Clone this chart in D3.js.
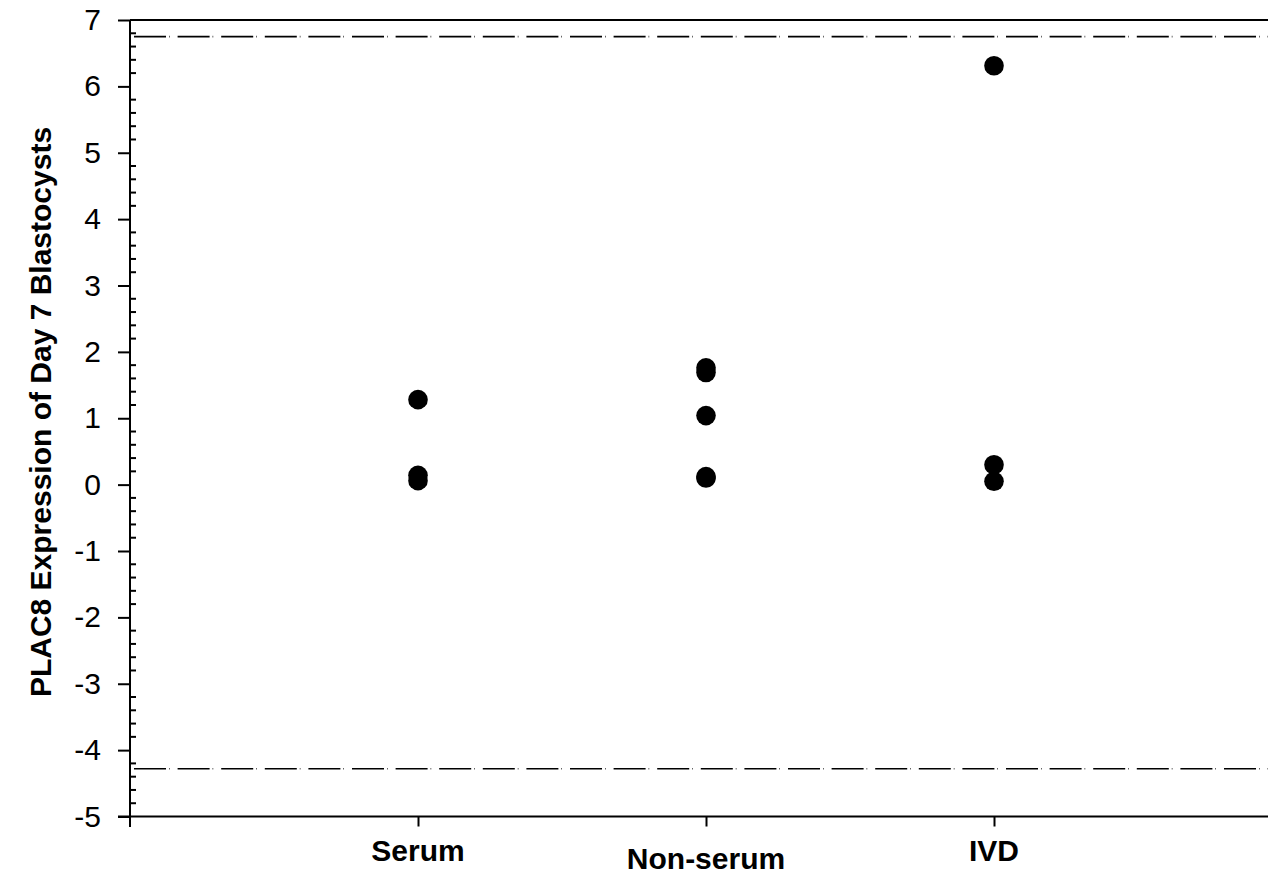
<!DOCTYPE html>
<html><head><meta charset="utf-8">
<script src="https://cdn.jsdelivr.net/npm/d3@7"></script>
<style>html,body{margin:0;padding:0;background:#fff;overflow:hidden}</style>
</head><body>
<svg id="chart" width="1268" height="896"></svg>
<script>
// Data
const categories = ["Serum", "Non-serum", "IVD"];
const categoryPos = [1, 2, 3];
const serumValues = [1.28, 0.14, 0.06];
const nonSerumValues = [1.76, 1.69, 1.04, 0.12, 0.10];
const ivdValues = [6.31, 0.30, 0.05];
const seriesValues = [serumValues, nonSerumValues, ivdValues];
const refLines = [6.75, -4.28];
const yTicks = [-5, -4, -3, -2, -1, 0, 1, 2, 3, 4, 5, 6, 7];
const labelBaselines = [861, 869, 861];
const yTitle = "PLAC8 Expression of Day 7 Blastocysts";

const svg = d3.select("#chart");
const W = 1268;
const x = d3.scaleLinear().domain([0, 4]).range([130, 1282]);
const y = d3.scaleLinear().domain([-5, 7]).range([816.5, 20]);
const font = "'Liberation Sans', Arial, sans-serif";

// reference dashed lines
svg.selectAll("line.ref").data(refLines).enter().append("line")
  .attr("x1", 134).attr("x2", W)
  .attr("y1", d => y(d)).attr("y2", d => y(d))
  .attr("stroke", "#000").attr("stroke-width", 1.6)
  .attr("stroke-dasharray", "32,3,0.6,8");

// top frame line
svg.append("line").attr("x1", 130).attr("x2", W)
  .attr("y1", y(7)).attr("y2", y(7))
  .attr("stroke", "#000").attr("stroke-width", 2);

// minor ticks (inward)
const minor = d3.range(-5, 7.0001, 0.2).filter(v => Math.abs(v - Math.round(v)) > 1e-6);
svg.selectAll("line.minor").data(minor).enter().append("line")
  .attr("x1", 130).attr("x2", 136)
  .attr("y1", d => y(d)).attr("y2", d => y(d))
  .attr("stroke", "#000").attr("stroke-width", 2);

// y axis
const yAxis = d3.axisLeft(y).tickValues(yTicks).tickSize(12).tickPadding(17)
  .tickFormat(d3.format("d"));
const gy = svg.append("g").attr("transform", "translate(130,0)").call(yAxis);
gy.select(".domain").remove();
gy.selectAll(".tick line").attr("stroke", "#000").attr("stroke-width", 2);
gy.selectAll(".tick text").attr("font-family", font).attr("font-size", 30)
  .attr("fill", "#000").text(d => d < 0 ? "-" + Math.abs(d) : d);
gy.append("line").attr("x1", 0).attr("x2", 0).attr("y1", y(7)).attr("y2", y(-5) + 10.5)
  .attr("stroke", "#000").attr("stroke-width", 2);

// x axis
const xAxis = d3.axisBottom(x).tickValues(categoryPos).tickSize(10).tickFormat("");
const gx = svg.append("g").attr("transform", `translate(0,${y(-5)})`).call(xAxis);
gx.select(".domain").remove();
gx.selectAll(".tick line").attr("stroke", "#000").attr("stroke-width", 2);
gx.append("line").attr("x1", 118).attr("x2", W).attr("y1", 0).attr("y2", 0)
  .attr("stroke", "#000").attr("stroke-width", 2);

// category labels
svg.selectAll("text.cat").data(categories).enter().append("text")
  .attr("x", (d, i) => x(categoryPos[i]))
  .attr("y", (d, i) => labelBaselines[i])
  .attr("text-anchor", "middle").attr("font-family", font)
  .attr("font-weight", "bold").attr("font-size", 30).attr("fill", "#000")
  .text(d => d);

// y title
svg.append("text").attr("transform", "translate(51,412) rotate(-90)")
  .attr("text-anchor", "middle").attr("font-family", font)
  .attr("font-weight", "bold").attr("font-size", 30).attr("fill", "#000")
  .text(yTitle);

// points
const pts = [];
seriesValues.forEach((vals, i) => vals.forEach(v => pts.push({c: categoryPos[i], v})));
svg.selectAll("circle.pt").data(pts).enter().append("circle")
  .attr("cx", d => x(d.c)).attr("cy", d => y(d.v)).attr("r", 9.8)
  .attr("fill", "#000");
</script>
</body></html>
